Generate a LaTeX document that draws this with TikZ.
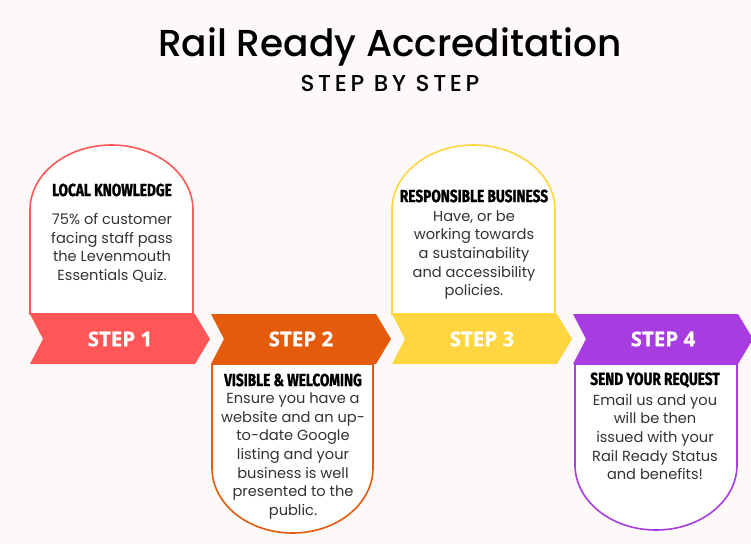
\documentclass[tikz,border=0pt]{standalone}
\usepackage{fontspec}
\setmainfont{Poppins}
\newfontfamily\titlefont[UprightFont={* Medium}]{Poppins}
\newfontfamily\headfont[FakeStretch=0.78,FakeBold=1.2]{Fira Sans}
\newfontfamily\stepfont[FakeBold=0.6]{Open Sans}
\definecolor{bgc}{HTML}{FCF9F8}
\definecolor{cone}{HTML}{FF5757}
\definecolor{ctwo}{HTML}{E35B0B}
\definecolor{cthree}{HTML}{FFD640}
\definecolor{cfour}{HTML}{A93CE0}
\definecolor{bodyc}{HTML}{333333}
\tikzset{
  boxshape/.style={draw=#1, fill=white, line width=1.6pt},
  chev/.style={fill=#1},
  steplabel/.style={text=white, font=\stepfont\bfseries\fontsize{20.5}{24}\selectfont},
  heading/.style={text=black, font=\headfont\bfseries\fontsize{17.5}{20}\selectfont},
  bodytext/.style={text=bodyc, align=center, font=\fontsize{14.6}{18.6}\selectfont}
}
\begin{document}
\begin{tikzpicture}[x=1pt,y=-1pt]
\fill[bgc] (0,0) rectangle (751,544);
\useasboundingbox (0,0) rectangle (751,544);
% title
\node (title) at (390,47) {\titlefont\fontsize{37.5}{40}\selectfont Rail Ready Accreditation};
\node (subtitle) at (390,83) {\titlefont\fontsize{23}{26}\selectfont\addfontfeature{LetterSpace=16}STEP BY STEP};
% step 1
\draw[boxshape=cone] (30,314) -- (30,210) arc[start angle=180,end angle=360,x radius=81.5,y radius=65] -- (193,314) -- cycle;
\fill[chev=cone] (30,314) -- (195,314) -- (210,339) -- (195,364) -- (30,364) -- (43,339) -- cycle;
\node[steplabel] (s1) at (120,339) {STEP 1};
\node[heading] (h1) at (112,190) {LOCAL KNOWLEDGE};
\node[bodytext] (b1) at (112,248) {75\% of customer\\facing staff pass\\the Levenmouth\\Essentials Quiz.};
% step 2
\draw[boxshape=ctwo] (212,364) -- (373,364) -- (373,468) arc[start angle=0,end angle=180,x radius=80.5,y radius=65] -- cycle;
\fill[chev=ctwo] (211,314) -- (376,314) -- (391,339) -- (376,364) -- (211,364) -- (224,339) -- cycle;
\node[steplabel] (s2) at (301,339) {STEP 2};
\node[heading] (h2) at (293,380) {VISIBLE \& WELCOMING};
\node[bodytext] (b2) at (293,456) {Ensure you have a\\website and an up-\\to-date Google\\listing and your\\business is well\\presented to the\\public.};
% step 3
\draw[boxshape=cthree] (392,314) -- (392,210) arc[start angle=180,end angle=360,x radius=81.5,y radius=65] -- (555,314) -- cycle;
\fill[chev=cthree] (392,314) -- (557,314) -- (572,339) -- (557,364) -- (392,364) -- (405,339) -- cycle;
\node[steplabel] (s3) at (482,339) {STEP 3};
\node[heading] (h3) at (474,196) {RESPONSIBLE BUSINESS};
\node[bodytext] (b3) at (474,255) {Have, or be\\working towards\\a sustainability\\and accessibility\\policies.};
% step 4
\draw[boxshape=cfour] (575,364) -- (737,364) -- (737,465) arc[start angle=0,end angle=180,x radius=81,y radius=65] -- cycle;
\fill[chev=cfour] (573,314) -- (738,314) -- (753,339) -- (738,364) -- (573,364) -- (586,339) -- cycle;
\node[steplabel] (s4) at (663,339) {STEP 4};
\node[heading] (h4) at (655,380) {SEND YOUR REQUEST};
\node[bodytext] (b4) at (655,437) {Email us and you\\will be then\\issued with your\\Rail Ready Status\\and benefits!};
\end{tikzpicture}
\end{document}
